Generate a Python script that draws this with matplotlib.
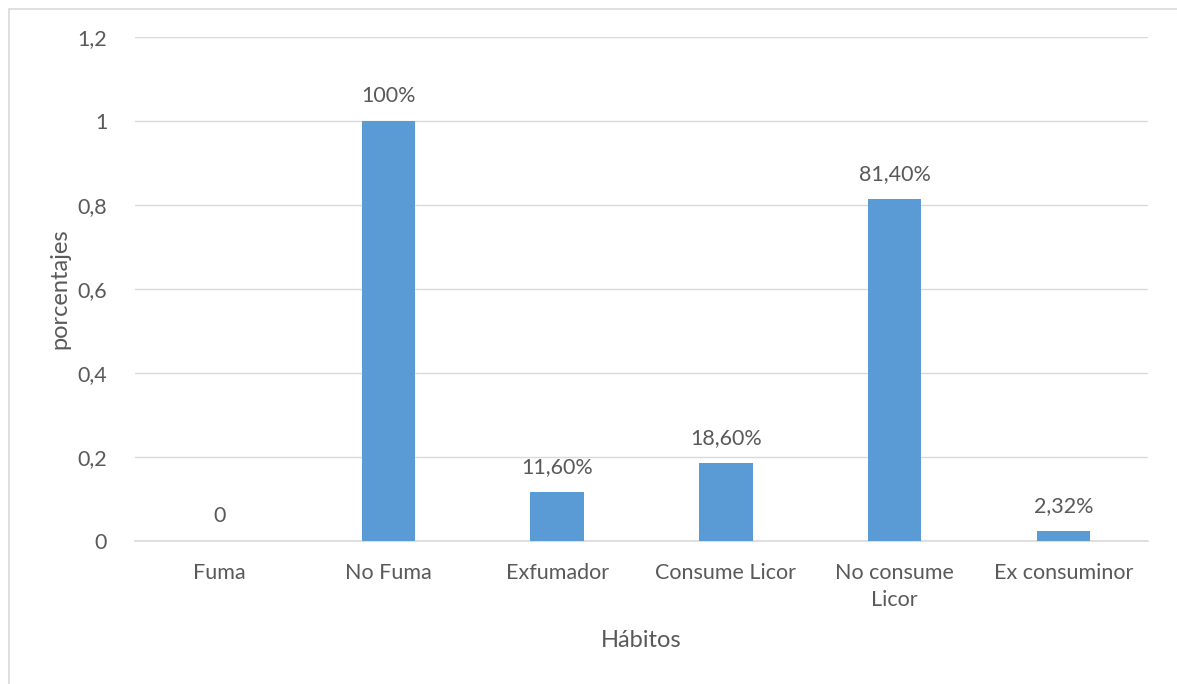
import matplotlib
matplotlib.use("Agg")
import matplotlib.pyplot as plt
from matplotlib.patches import Rectangle

categories = ["Fuma", "No Fuma", "Exfumador", "Consume Licor", "No consume\nLicor", "Ex consuminor"]
values = [0, 1.0, 0.116, 0.186, 0.814, 0.0232]
value_labels = ["0", "100%", "11,60%", "18,60%", "81,40%", "2,32%"]
y_ticks = [0, 0.2, 0.4, 0.6, 0.8, 1.0, 1.2]
y_tick_labels = ["0", "0,2", "0,4", "0,6", "0,8", "1", "1,2"]

plt.rcParams["font.family"] = ["Lato", "DejaVu Sans"]
text_color = "#595959"
grid_color = "#D9D9D9"
bar_color = "#5B9BD5"

W, H = 1177, 684
fig = plt.figure(figsize=(W / 100, H / 100), dpi=100)
fig.patch.set_facecolor("white")

# chart frame
fig.patches.append(Rectangle((9 / W, -0.1), 1.2, (H - 9) / H + 0.1, transform=fig.transFigure,
                             fill=False, edgecolor="#D9D9D9", lw=1.2))

ax = fig.add_axes([135 / W, 1 - 541 / H, (1148 - 135) / W, (541 - 37) / H])
x = list(range(len(categories)))
ax.bar(x, values, width=0.315, color=bar_color, zorder=3)
ax.set_xlim(-0.5, len(categories) - 0.5)
ax.set_ylim(0, 1.2)

ax.set_yticks(y_ticks)
ax.set_yticklabels(y_tick_labels)
ax.set_xticks(x)
ax.set_xticklabels(categories, linespacing=1.45)
ax.tick_params(axis="both", length=0, labelsize=15.5, colors=text_color)
ax.tick_params(axis="y", pad=20)
ax.tick_params(axis="x", pad=16)

ax.grid(axis="y", color=grid_color, lw=1, zorder=0)
for s in ["top", "right", "left"]:
    ax.spines[s].set_visible(False)
ax.spines["bottom"].set_color(grid_color)
ax.spines["bottom"].set_linewidth(1.2)

for xi, v, lab in zip(x, values, value_labels):
    ax.annotate(lab, (xi, v), xytext=(0, 18), textcoords="offset points",
                ha="center", va="center", fontsize=15.5, color=text_color)

ax.set_xlabel("Hábitos", fontsize=17, color=text_color, labelpad=14)
ax.set_ylabel("porcentajes", fontsize=17, color=text_color, labelpad=5)

fig.savefig("out.png", dpi=100)
